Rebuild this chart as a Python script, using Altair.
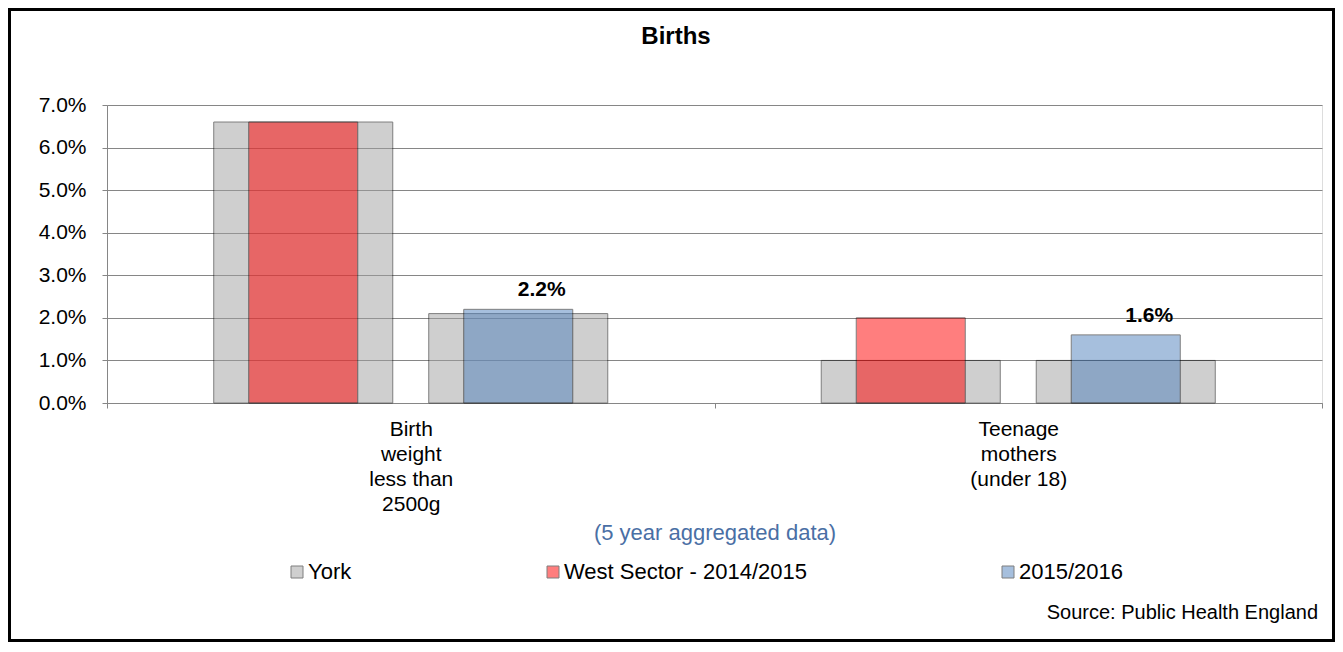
import altair as alt
import pandas as pd

# ---- data ----
categories = ["Birth\nweight\nless than\n2500g", "Teenage\nmothers\n(under 18)"]
series = ["York", "West Sector - 2014/2015", "2015/2016"]
slots = ["a", "b"]
york_a = [0.066, 0.010]      # York, shown behind West Sector 2014/2015
york_b = [0.021, 0.010]      # York, shown behind 2015/2016
west_1415 = [0.066, 0.020]
west_1516 = [0.022, 0.016]
y_ticks = [0.0, 0.01, 0.02, 0.03, 0.04, 0.05, 0.06, 0.07]
colors = ["#A1A1A1", "#FF0000", "#4F81BD"]
title_text = ["Births"]
source_text = ["Source: Public Health England"]

gray_rows = []
col_rows = []
for i, c in enumerate(categories):
    gray_rows.append({"category": c, "slot": "a", "series": series[0], "value": york_a[i]})
    gray_rows.append({"category": c, "slot": "b", "series": series[0], "value": york_b[i]})
    col_rows.append({"category": c, "slot": "a", "series": series[1], "value": west_1415[i]})
    col_rows.append({"category": c, "slot": "b", "series": series[2], "value": west_1516[i]})
gray_df = pd.DataFrame(gray_rows)
col_df = pd.DataFrame(col_rows)
lab_df = col_df[col_df["series"] == series[2]]
src_df = pd.DataFrame({"label": source_text})
ttl_df = pd.DataFrame({"label": title_text})
dummy = pd.DataFrame({"k": [0]})

FONT = "Liberation Sans"
W, H = 1215, 298

x_enc = alt.X(
    "category:N",
    sort=categories,
    scale=alt.Scale(paddingInner=0, paddingOuter=0),
    axis=alt.Axis(
        title="(5 year aggregated data)",
        labelAngle=0,
        labelExpr="split(datum.label, '\\n')",
        labelFontSize=21,
        labelLineHeight=25,
        labelPadding=10,
        labelColor="#000000",
        labelFont=FONT,
        tickBand="extent",
        tickSize=5,
        tickColor="#868686",
        domainColor="#868686",
        titleFontSize=22,
        titleFont=FONT,
        titleFontWeight="normal",
        titleColor="#4A6FA5",
        titlePadding=8,
        grid=False,
    ),
)
# wide York bars fill their offset band; narrow coloured bars use their own offset scale
xo_gray = alt.XOffset(
    "slot:N",
    sort=slots,
    scale=alt.Scale(domain=slots, paddingInner=0.1674, paddingOuter=0.4965),
)
xo_col = alt.XOffset(
    "slot:N",
    sort=slots,
    scale=alt.Scale(domain=slots, paddingInner=0.493, paddingOuter=0.6593),
)
y_enc = alt.Y(
    "value:Q",
    scale=alt.Scale(domain=[0, 0.07], nice=False),
    axis=alt.Axis(
        title=None,
        format=".1%",
        values=y_ticks,
        labelFontSize=21,
        labelFont=FONT,
        labelColor="#000000",
        labelPadding=16,
        tickSize=5,
        tickColor="#868686",
        domainColor="#868686",
        grid=True,
        gridColor="#868686",
        gridWidth=1,
    ),
)
color_enc = alt.Color(
    "series:N",
    scale=alt.Scale(domain=series, range=colors),
    legend=alt.Legend(
        title=None,
        orient="none",
        legendX=179,
        legendY=456,
        direction="horizontal",
        columns=3,
        columnPadding=190,
        gridAlign="each",
        symbolType="square",
        symbolSize=144,
        symbolStrokeColor="#000000",
        symbolStrokeWidth=1,
        symbolOpacity=0.5,
        labelFontSize=22,
        labelFont=FONT,
        labelColor="#000000",
        labelOffset=0,
        labelLimit=400,
        padding=0,
    ),
)

gray = alt.Chart(gray_df).mark_bar(
    opacity=0.5, stroke="#000000", strokeWidth=1
).encode(x=x_enc, xOffset=xo_gray, y=y_enc, color=color_enc)

colored = alt.Chart(col_df).mark_bar(
    opacity=0.5, stroke="#000000", strokeWidth=1
).encode(x=x_enc, xOffset=xo_col, y=y_enc, color=color_enc)

labels = alt.Chart(lab_df).mark_text(
    fontSize=21, fontWeight="bold", font=FONT, dy=-13, baseline="alphabetic", color="#000000"
).encode(x=x_enc, xOffset=xo_col, y=y_enc, text=alt.Text("value:Q", format=".1%"))

title = alt.Chart(ttl_df).mark_text(
    align="center", baseline="alphabetic", fontSize=24, fontWeight="bold", font=FONT, color="#000000"
).encode(x=alt.value(569), y=alt.value(-61), text="label:N")

source = alt.Chart(src_df).mark_text(
    align="right", baseline="alphabetic", fontSize=20, font=FONT, color="#000000"
).encode(x=alt.value(1211), y=alt.value(514), text="label:N")

frame = alt.Chart(dummy).mark_rect(
    filled=False, stroke="#000000", strokeWidth=3
).encode(
    x=alt.value(-97.5), x2=alt.value(1226.5), y=alt.value(-95.5), y2=alt.value(535.5)
)

chart = alt.layer(gray, colored, labels, title, source, frame).resolve_scale(
    xOffset="independent"
).properties(
    width=W,
    height=H,
    autosize="none",
    padding={"left": 99, "top": 97, "right": 13, "bottom": 239},
).configure_view(stroke="#C8C8C8", strokeWidth=1).configure(font=FONT)

chart.save("out.html", embed_options={"renderer": "svg", "actions": False})
